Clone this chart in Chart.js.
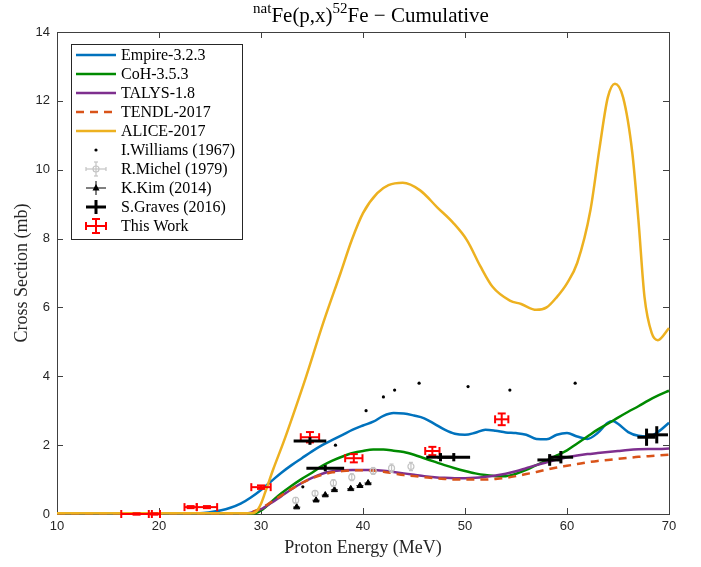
<!DOCTYPE html>
<html>
<head>
<meta charset="utf-8">
<script src="https://cdn.jsdelivr.net/npm/chart.js@4.4.1/dist/chart.umd.min.js"></script>
<style>
  html, body { margin: 0; padding: 0; background: #fff; }
</style>
</head>
<body>
<canvas id="chart" width="701" height="567"></canvas>
<script>
// model curves (MeV, mb)
const empireE = [10, 24, 25, 26, 27, 28, 29, 30, 31, 32, 33, 34, 35, 36, 37, 38, 39, 40, 41, 42, 43, 44, 45, 46, 47, 48, 49, 50, 51, 52, 53, 54, 55, 56, 57, 58, 59, 60, 61, 62, 63, 64, 64.5, 65, 66, 67, 68, 69, 70]
const empireXS = [0.02, 0.02, 0.05, 0.1, 0.18, 0.3, 0.48, 0.7, 0.95, 1.2, 1.42, 1.62, 1.82, 2.0, 2.15, 2.3, 2.45, 2.57, 2.68, 2.85, 2.93, 2.92, 2.86, 2.78, 2.62, 2.45, 2.33, 2.3, 2.36, 2.45, 2.42, 2.37, 2.35, 2.3, 2.18, 2.17, 2.3, 2.35, 2.25, 2.18, 2.35, 2.65, 2.7, 2.62, 2.38, 2.27, 2.25, 2.4, 2.65]

const cohE = [10, 29, 29.5, 30, 31, 32, 33, 34, 35, 36, 37, 38, 39, 40, 41, 42, 43, 44, 45, 46, 47, 48, 49, 50, 51, 52, 53, 54, 55, 56, 57, 58, 59, 60, 61, 62, 63, 64, 65, 66, 67, 68, 69, 70]
const cohXS = [0.02, 0.02, 0.03, 0.1, 0.35, 0.6, 0.82, 1.02, 1.2, 1.4, 1.55, 1.67, 1.77, 1.83, 1.87, 1.87, 1.84, 1.8, 1.72, 1.62, 1.52, 1.42, 1.33, 1.25, 1.18, 1.13, 1.1, 1.1, 1.17, 1.28, 1.42, 1.55, 1.7, 1.85, 2.05, 2.25, 2.45, 2.62, 2.8, 2.97, 3.13, 3.3, 3.45, 3.58]

const talysE = [10, 28.5, 29, 30, 31, 32, 33, 34, 35, 36, 37, 38, 39, 40, 41, 42, 43, 44, 45, 46, 47, 48, 49, 50, 51, 52, 53, 54, 55, 56, 57, 58, 59, 60, 61, 62, 63, 64, 65, 66, 67, 68, 69, 70]
const talysXS = [0.02, 0.02, 0.04, 0.14, 0.32, 0.52, 0.72, 0.9, 1.05, 1.17, 1.24, 1.27, 1.28, 1.28, 1.28, 1.26, 1.22, 1.18, 1.14, 1.1, 1.07, 1.05, 1.04, 1.04, 1.05, 1.08, 1.12, 1.17, 1.24, 1.33, 1.42, 1.5, 1.58, 1.65, 1.7, 1.74, 1.77, 1.8, 1.83, 1.86, 1.88, 1.89, 1.89, 1.9]

const tendlE = [10, 28.5, 29, 30, 31, 32, 33, 34, 35, 36, 37, 38, 39, 40, 41, 42, 43, 44, 45, 46, 47, 48, 49, 50, 51, 52, 53, 54, 55, 56, 57, 58, 59, 60, 61, 62, 63, 64, 65, 66, 67, 68, 69, 70]
const tendlXS = [0.02, 0.02, 0.05, 0.17, 0.35, 0.54, 0.73, 0.9, 1.04, 1.14, 1.21, 1.25, 1.27, 1.27, 1.26, 1.23, 1.18, 1.13, 1.1, 1.07, 1.04, 1.02, 1.0, 1.0, 1.0, 1.0, 1.02, 1.05, 1.1, 1.16, 1.22, 1.29, 1.35, 1.4, 1.45, 1.5, 1.54, 1.57, 1.6, 1.63, 1.66, 1.68, 1.7, 1.72]

const aliceE = [10, 29, 29.5, 30, 30.4, 31.2, 32.2, 33, 34.4, 36.1, 37.8, 38.9, 40, 41.4, 42.5, 43.9, 45.6, 47.3, 48.8, 50.2, 51.5, 52.7, 54.4, 55.5, 57, 58, 59, 60, 61, 62.3, 63.2, 64, 64.7, 65.5, 66.4, 67, 67.6, 68.3, 68.9, 70]
const aliceXS = [0.02, 0.02, 0.06, 0.3, 0.62, 1.3, 2.08, 2.75, 3.97, 5.55, 7.0, 7.96, 8.74, 9.32, 9.55, 9.62, 9.4, 8.9, 8.47, 7.95, 7.2, 6.6, 6.2, 6.1, 5.93, 6.0, 6.3, 6.7, 7.29, 8.83, 10.65, 12.1, 12.5, 12.1, 10.5, 8.55, 6.3, 5.26, 5.05, 5.4]

// measurements
const willE = [34.1, 37.3, 40.3, 42.0, 43.1, 45.5, 50.3, 54.4, 60.8]
const willXS = [0.79, 2.0, 3.0, 3.4, 3.6, 3.8, 3.7, 3.6, 3.8]

const michelE = [33.4, 35.3, 37.1, 38.9, 41.0, 42.8, 44.7]
const michelXS = [0.4, 0.6, 0.9, 1.07, 1.25, 1.33, 1.38]
const michelDXS = [0.08, 0.08, 0.1, 0.1, 0.1, 0.12, 0.12]

const kimE = [33.5, 35.4, 36.3, 37.2, 38.8, 39.7, 40.5]
const kimXS = [0.2, 0.4, 0.55, 0.7, 0.73, 0.82, 0.9]
const kimDE = [0.35, 0.35, 0.35, 0.35, 0.35, 0.35, 0.35]
const kimDXS = [0.03, 0.03, 0.04, 0.04, 0.04, 0.05, 0.05]

const gravesE = [34.8, 36.3, 47.6, 48.9, 58.3, 59.4, 67.8, 68.8]
const gravesXS = [2.12, 1.33, 1.65, 1.65, 1.57, 1.65, 2.23, 2.3]
const gravesDE = [1.6, 1.85, 1.4, 1.6, 1.2, 1.2, 0.9, 1.1]
const gravesDXS = [0.11, 0.09, 0.12, 0.12, 0.17, 0.18, 0.25, 0.25]

const twE = [17.8, 19.55, 23.1, 24.7, 30.0, 34.8, 39.1, 46.8, 53.6]
const twXS = [0.0, 0.0, 0.2, 0.2, 0.78, 2.23, 1.62, 1.83, 2.75]
const twDE = [1.5, 0.55, 0.6, 1.0, 0.95, 0.9, 0.85, 0.7, 0.65]
const twDXS = [0.02, 0.02, 0.03, 0.03, 0.05, 0.15, 0.12, 0.12, 0.17]

const xTicks = [10, 20, 30, 40, 50, 60, 70]
const yTicks = [0, 2, 4, 6, 8, 10, 12, 14]

const SERIF = '"Liberation Serif", "DejaVu Serif", serif'
const SANS = '"Liberation Sans", Arial, sans-serif'

function pts(xs, ys, dxs, dys) {
    return xs.map((x, i) => ({ x: x, y: ys[i], dx: dxs ? dxs[i] : 0, dy: dys ? dys[i] : 0 }))
}

function curve(label, xs, ys, color, order, dash) {
    return {
        label: label, data: pts(xs, ys), showLine: true, borderColor: color, backgroundColor: color,
        borderWidth: 2.5, pointRadius: 0, cubicInterpolationMode: 'monotone', clip: 4,
        borderDash: dash || [], order: order, fill: false, legendKind: dash ? 'dash' : 'line'
    }
}

const datasets = [
    { label: 'This Work', data: pts(twE, twXS, twDE, twDXS), pointRadius: 0, order: 0,
      errorBar: { color: '#ff0000', width: 2, cap: 4 }, legendKind: 'err' },
    { label: 'S.Graves (2016)', data: pts(gravesE, gravesXS, gravesDE, gravesDXS), pointRadius: 0, order: 0,
      errorBar: { color: '#000', width: 3, cap: 0 }, legendKind: 'err' },
    { label: 'K.Kim (2014)', data: pts(kimE, kimXS, kimDE, kimDXS), pointStyle: 'triangle', pointRadius: 3.5,
      backgroundColor: '#000', borderColor: '#000', borderWidth: 1, order: 0,
      errorBar: { color: '#000', width: 1, cap: 0 }, legendKind: 'err' },
    { label: 'R.Michel (1979)', data: pts(michelE, michelXS, null, michelDXS), pointStyle: 'circle', pointRadius: 3,
      backgroundColor: 'rgba(255,255,255,0)', borderColor: '#c4c4c4', borderWidth: 1.2, order: 0,
      errorBar: { color: '#c4c4c4', width: 1.2, cap: 2 }, legendKind: 'err' },
    { label: 'I.Williams (1967)', data: pts(willE, willXS), pointRadius: 1.6, backgroundColor: '#000',
      borderWidth: 0, order: 0, legendKind: 'dot' },
    curve('ALICE-2017', aliceE, aliceXS, '#EDB120', 1),
    curve('TENDL-2017', tendlE, tendlXS, '#D95319', 2, [8, 6]),
    curve('TALYS-1.8', talysE, talysXS, '#7E2F8E', 3),
    curve('CoH-3.5.3', cohE, cohXS, '#008a00', 4),
    curve('Empire-3.2.3', empireE, empireXS, '#0072BD', 5)
]

const legendOrder = ['Empire-3.2.3', 'CoH-3.5.3', 'TALYS-1.8', 'TENDL-2017', 'ALICE-2017',
    'I.Williams (1967)', 'R.Michel (1979)', 'K.Kim (2014)', 'S.Graves (2016)', 'This Work']

function line(ctx, x0, y0, x1, y1) {
    ctx.beginPath()
    ctx.moveTo(x0, y0)
    ctx.lineTo(x1, y1)
    ctx.stroke()
}

const errorBars = {
    id: 'errorBars',
    afterDatasetsDraw(chart) {
        const { ctx, scales: { x, y } } = chart
        chart.data.datasets.forEach(ds => {
            if (!ds.errorBar) return
            const eb = ds.errorBar
            ctx.save()
            ctx.strokeStyle = eb.color
            ctx.lineWidth = eb.width
            ds.data.forEach(p => {
                const px = x.getPixelForValue(p.x)
                const py = y.getPixelForValue(p.y)
                if (p.dx) {
                    const x0 = x.getPixelForValue(p.x - p.dx)
                    const x1 = x.getPixelForValue(p.x + p.dx)
                    line(ctx, x0, py, x1, py)
                    if (eb.cap) {
                        line(ctx, x0, py - eb.cap, x0, py + eb.cap)
                        line(ctx, x1, py - eb.cap, x1, py + eb.cap)
                    }
                }
                if (p.dy) {
                    const y0 = y.getPixelForValue(p.y - p.dy)
                    const y1 = y.getPixelForValue(p.y + p.dy)
                    line(ctx, px, y0, px, y1)
                    if (eb.cap) {
                        line(ctx, px - eb.cap, y0, px + eb.cap, y0)
                        line(ctx, px - eb.cap, y1, px + eb.cap, y1)
                    }
                }
            })
            ctx.restore()
        })
    }
}

const frame = {
    id: 'frame',
    beforeDatasetsDraw(chart) {
        const { ctx, chartArea: a, scales: { x, y } } = chart
        ctx.save()
        ctx.strokeStyle = '#404040'
        ctx.lineWidth = 1
        ctx.strokeRect(Math.round(a.left) + 0.5, Math.round(a.top) + 0.5,
            Math.round(a.right - a.left), Math.round(a.bottom - a.top))
        xTicks.forEach(v => {
            const px = Math.round(x.getPixelForValue(v)) + 0.5
            line(ctx, px, a.bottom, px, a.bottom - 6)
            line(ctx, px, a.top, px, a.top + 6)
        })
        yTicks.forEach(v => {
            const py = Math.round(y.getPixelForValue(v)) + 0.5
            line(ctx, a.left, py, a.left + 6, py)
            line(ctx, a.right, py, a.right - 6, py)
        })
        ctx.restore()
    },
    afterDraw(chart) {
        const { ctx, chartArea: a } = chart
        ctx.save()

        // titles
        ctx.fillStyle = '#000'
        ctx.textBaseline = 'alphabetic'
        const parts = [['nat', 15, -9], ['Fe(p,x)', 21, 0], ['52', 15, -9], ['Fe \u2212 Cumulative', 21, 0]]
        let total = 0
        parts.forEach(p => { ctx.font = p[1] + 'px ' + SERIF; total += ctx.measureText(p[0]).width })
        let tx = 371 - total / 2
        parts.forEach(p => {
            ctx.font = p[1] + 'px ' + SERIF
            ctx.fillText(p[0], tx, 22 + p[2])
            tx += ctx.measureText(p[0]).width
        })

        ctx.font = '18px ' + SERIF
        ctx.fillStyle = '#262626'
        ctx.textAlign = 'center'
        ctx.textBaseline = 'middle'
        ctx.fillText('Proton Energy (MeV)', (a.left + a.right) / 2, 548)
        ctx.save()
        ctx.translate(22, (a.top + a.bottom) / 2)
        ctx.rotate(-Math.PI / 2)
        ctx.fillText('Cross Section (mb)', 0, 0)
        ctx.restore()

        // legend
        const lx = 71, ly = 44, lw = 171, lh = 195
        ctx.fillStyle = '#fff'
        ctx.fillRect(lx, ly, lw, lh)
        ctx.strokeStyle = '#262626'
        ctx.lineWidth = 1
        ctx.strokeRect(lx + 0.5, ly + 0.5, lw, lh)
        ctx.font = '16px ' + SERIF
        ctx.textAlign = 'left'
        legendOrder.forEach((name, i) => {
            const ds = chart.data.datasets.find(d => d.label === name)
            const ry = 55 + i * 19
            const cx = 96
            ctx.save()
            if (ds.legendKind === 'line' || ds.legendKind === 'dash') {
                ctx.strokeStyle = ds.borderColor
                ctx.lineWidth = 2.5
                ctx.setLineDash(ds.legendKind === 'dash' ? [8, 6] : [])
                line(ctx, 76, ry, 116, ry)
            } else if (ds.legendKind === 'dot') {
                ctx.fillStyle = '#000'
                ctx.beginPath()
                ctx.arc(cx, ry, 1.6, 0, Math.PI * 2)
                ctx.fill()
            } else {
                const eb = ds.errorBar
                ctx.strokeStyle = eb.color
                ctx.lineWidth = eb.width
                line(ctx, cx - 10, ry, cx + 10, ry)
                line(ctx, cx, ry - 7, cx, ry + 7)
                if (eb.cap) {
                    const c = name === 'This Work' ? 4 : 2
                    line(ctx, cx - 10, ry - c, cx - 10, ry + c)
                    line(ctx, cx + 10, ry - c, cx + 10, ry + c)
                    line(ctx, cx - c, ry - 7, cx + c, ry - 7)
                    line(ctx, cx - c, ry + 7, cx + c, ry + 7)
                }
                if (name === 'R.Michel (1979)') {
                    ctx.beginPath()
                    ctx.arc(cx, ry, 3, 0, Math.PI * 2)
                    ctx.stroke()
                }
                if (name === 'K.Kim (2014)') {
                    ctx.fillStyle = '#000'
                    ctx.beginPath()
                    ctx.moveTo(cx, ry - 4)
                    ctx.lineTo(cx + 3.5, ry + 2.5)
                    ctx.lineTo(cx - 3.5, ry + 2.5)
                    ctx.closePath()
                    ctx.fill()
                }
            }
            ctx.restore()
            ctx.fillStyle = '#000'
            ctx.textBaseline = 'middle'
            ctx.fillText(name, 121, ry + 1)
        })
        ctx.restore()
    }
}

new Chart(document.getElementById('chart'), {
    type: 'scatter',
    data: { datasets: datasets },
    options: {
        responsive: false,
        animation: false,
        layout: { padding: { top: 32, right: 32, left: 0, bottom: 0 } },
        plugins: { legend: { display: false }, tooltip: { enabled: false }, title: { display: false } },
        scales: {
            x: {
                type: 'linear', min: 10, max: 70,
                afterFit: s => { s.height = 53 },
                afterBuildTicks: s => { s.ticks = xTicks.map(v => ({ value: v })) },
                grid: { display: false, drawTicks: false },
                border: { display: false },
                ticks: { font: { family: SANS, size: 13 }, color: '#262626', padding: 5, maxRotation: 0 }
            },
            y: {
                type: 'linear', min: 0, max: 14,
                afterFit: s => { s.width = 57 },
                afterBuildTicks: s => { s.ticks = yTicks.map(v => ({ value: v })) },
                grid: { display: false, drawTicks: false },
                border: { display: false },
                ticks: { font: { family: SANS, size: 13 }, color: '#262626', padding: 7 }
            }
        }
    },
    plugins: [errorBars, frame]
})
</script>
</body>
</html>
